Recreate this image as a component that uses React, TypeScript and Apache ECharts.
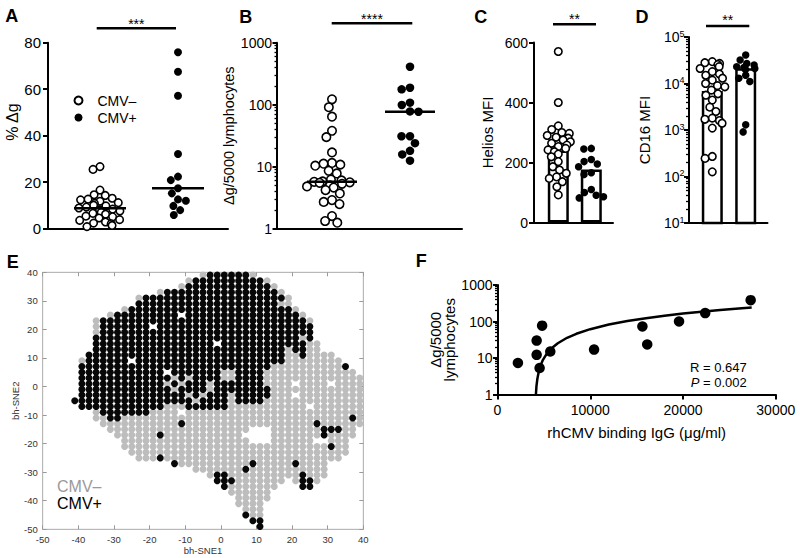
import React, { useEffect, useRef } from 'react';
import * as echarts from 'echarts';

const FONT = '"Liberation Sans", Arial, Helvetica, sans-serif';

// ---------------- Panel A : % Δg ----------------
const GROUPS = ['CMV–', 'CMV+'];
const A_NEG = [26.7, 25.5, 16.6, 14.6, 14.3, 13.1, 12.7, 12.4, 11.8, 11.2, 10.9, 10.1, 9.8, 9.3, 8.9, 8.4, 8.1, 7.6, 7.0, 6.6, 6.2, 5.4, 5.1, 4.6, 3.9, 3.6, 2.9, 2.4, 2.1, 1.4, 0.9];
const A_POS = [75.9, 67.5, 57.2, 32.1, 22.4, 20.9, 17.4, 15.2, 12.6, 12.0, 9.8, 8.0, 5.9];
const A_MEDIAN = [8.8, 17.4];

// ---------------- Panel B : Δg/5000 lymphocytes ----------------
const B_NEG = [122, 91, 64, 38, 30, 17, 11.5, 11.2, 10.8, 10.4, 8.6, 7.8, 6.2, 6.0, 5.8, 5.7, 5.6, 5.5, 5.3, 5.0, 4.8, 4.6, 4.2, 3.7, 2.9, 2.7, 2.5, 1.6, 1.33, 1.25];
const B_POS = [410, 188, 177, 108, 99, 78, 77, 31, 31, 24, 18, 15.8, 12.5];
const B_MEDIAN = [5.7, 77];

// ---------------- Panel C : Helios MFI ----------------
const C_NEG = [570, 400, 322, 310, 300, 297, 290, 284, 281, 275, 269, 264, 258, 253, 247, 242, 236, 228, 219, 203, 186, 175, 164, 152, 147, 136, 119, 92];
const C_POS = [247, 245, 210, 203, 195, 186, 166, 160, 110, 100, 91, 86, 82];
const C_MEAN = [240, 177];

// ---------------- Panel D : CD16 MFI ----------------
const D_NEG = [29500, 28000, 27000, 25500, 23000, 21000, 18000, 16000, 15000, 13000, 11800, 10000, 9000, 8500, 7200, 6000, 5600, 4400, 3100, 2500, 1800, 1700, 1600, 1400, 1100, 270, 245, 126];
const D_POS = [41000, 32000, 27000, 25000, 23000, 22000, 21000, 20000, 15000, 13000, 11000, 1290, 910];
const D_MEAN = [6900, 21300];

// minor (log) tick values
const MINOR_1_1000 = [2, 3, 4, 5, 6, 7, 8, 9, 20, 30, 40, 50, 60, 70, 80, 90, 200, 300, 400, 500, 600, 700, 800, 900];
const MINOR_10_1E5 = [20, 30, 40, 50, 60, 70, 80, 90, 200, 300, 400, 500, 600, 700, 800, 900, 2000, 3000, 4000, 5000, 6000, 7000, 8000, 9000, 20000, 30000, 40000, 50000, 60000, 70000, 80000, 90000];

// ---------------- Panel E : bh-SNE map (run-length rows, 2-unit cells) ----------------
// '.' empty, 'g' CMV– (gray), 'k' CMV+ (black); first column x=-41, first row y=39
const E_X0 = -41;
const E_Y0 = 39;
const E_STEP = 2;
const E_ROWS = [
  '18. g 6k g 15.',
  '16. g 10k g 13.',
  '15. g 12k g 12.',
  '12. g 16k g 11.',
  '9. g 20k g 10.',
  '9. 20k 2g 10.',
  '7. g 23k g 9.',
  '5. g 9k . 16k g 8.',
  '3. g 29k g 7.',
  '3. g 7k . 22k 7.',
  '3. g 30k 7.',
  '3. 29k g k 7.',
  '3. 17k . 12k 2g 6.',
  '3. 27k g 2k 2g 6.',
  '2. 28k 2g k 4g 4.',
  '. g 6k . 21k 8g 3.',
  '. 27k 10g k 2.',
  '. 12k . 7k 2g 4k 13g .',
  '. 13k g k g 4k 2g 4k 14g',
  '. 12k g k g 3k g 7k 4g . 4g . 4g',
  '. 13k g 4k g 8k 13g',
  '. 15k g k g 3k g 5k 3g . 9g',
  '17k g 4k g 4k 14g',
  '. 12k 3g 6k 11g . 7g',
  '3. g 7k 4g . 25g',
  '3. 2g 2k 32g k g',
  '4. 11g k 18g k 6g',
  '5. 20g 3. 7g 3k 2g .',
  '6. 6g k 11g 4. 7g k 4g .',
  '7. 18g 3. 6g 2. 3g 2.',
  '7. 29g k 2g 2.',
  '8. 31g 2.',
  '9. 3g k 25g 3.',
  '14. k 10g k 5g k 4g 5.',
  '17. 7g k 11g 5.',
  '19. g 2k 10g k 3g 5.',
  '20. 3k 7g . g 2k g 6.',
  '21. k 7g 3. 2k 7.',
  '22. 6g 13.',
  '23. 5g 13.',
  '23. 4g 14.',
  '24. 3g 14.',
  '24. k 2g 14.',
  '25. 2k 14.',
  '26. k 14.',
];

// ---------------- Panel F : Δg vs rhCMV binding IgG ----------------
const F_IGG = [2200, 4220, 4220, 4810, 4540, 5690, 10410, 15620, 16140, 19570, 22390, 27290];
const F_DG = [7.3, 30, 12.2, 77, 5.3, 15, 17, 73, 23.5, 100, 170, 385];
const F_FIT_X = [4140, 4200, 4300, 4450, 4650, 4900, 5300, 5800, 6500, 7500, 8500, 10000, 12000, 14000, 16000, 18000, 20000, 22000, 24000, 26000, 27400];
const F_FIT_Y = [1, 1.69, 2.72, 4.27, 6.33, 8.92, 13.05, 18.2, 25.4, 35.8, 46.1, 61.6, 82.3, 102.9, 123.6, 144.2, 164.9, 185.6, 206.2, 226.9, 241.3];
const F_R = '0.647';
const F_P = '0.002';

function decodeRows(rows: string[]) {
  const gray: number[][] = [];
  const black: number[][] = [];
  rows.forEach((row, r) => {
    let c = 0;
    row.split(' ').forEach((tok) => {
      const m = tok.match(/^(\d*)([.gk])$/);
      if (!m) return;
      const n = m[1] ? parseInt(m[1], 10) : 1;
      for (let i = 0; i < n; i++, c++) {
        const pt = [E_X0 + E_STEP * c, E_Y0 - E_STEP * r];
        if (m[2] === 'g') gray.push(pt);
        else if (m[2] === 'k') black.push(pt);
      }
    });
  });
  return { gray, black };
}

const BL = { color: '#000', width: 2 };
const plain = (v: number) => String(v);

function frameX(gridIndex: number) {
  return {
    gridIndex, type: 'value', min: 0, max: 1,
    axisLine: { show: true, onZero: false, lineStyle: BL },
    axisTick: { show: false }, axisLabel: { show: false }, splitLine: { show: false },
  };
}
function plotX(gridIndex: number, jitter: number) {
  return {
    gridIndex, type: 'category', data: GROUPS, show: false,
    jitter, jitterOverlap: false, jitterMargin: 0,
  };
}
function hiddenY(gridIndex: number, type: string, min: number, max: number) {
  return { gridIndex, type, min, max, show: false, splitLine: { show: false } };
}
function minorLogY(gridIndex: number, min: number, max: number, values: number[]) {
  return {
    gridIndex, type: 'log', logBase: 10, min, max, position: 'left',
    axisLine: { show: false }, axisLabel: { show: false }, splitLine: { show: false },
    axisTick: { show: true, length: 2.5, customValues: values, lineStyle: { color: '#000', width: 1.3 } },
  };
}
const tickStyle = (len: number) => ({ show: true, length: len, lineStyle: { color: '#000', width: 2 } });
const labelStyle = (size: number, margin: number) => ({ color: '#000', fontSize: size, fontFamily: FONT, margin, formatter: plain });

const openCircle = (size: number) => ({ symbol: 'circle', symbolSize: size, itemStyle: { color: '#fff', borderColor: '#000', borderWidth: 1.6, opacity: 1 } });
const filledCircle = (size: number) => ({ symbol: 'circle', symbolSize: size, itemStyle: { color: '#000', opacity: 1 } });

const medianRender = (half: number) => (_params: any, api: any) => {
  const p = api.coord([api.value(0), api.value(1)]);
  return {
    type: 'line',
    shape: { x1: p[0] - half, y1: p[1], x2: p[0] + half, y2: p[1] },
    style: { stroke: '#000', lineWidth: 2.5 },
  };
};

function buildOption() {
  const e = decodeRows(E_ROWS);
  const grids = [
    { left: 48, top: 42.7, width: 180, height: 186 },
    { left: 61, top: 42.7, width: 156, height: 186 },
    { left: 277, top: 42.7, width: 185, height: 186 },
    { left: 293, top: 42.7, width: 156, height: 186 },
    { left: 534, top: 42.5, width: 79, height: 180 },
    { left: 541.8, top: 42.5, width: 66, height: 180 },
    { left: 688.5, top: 37, width: 79, height: 186 },
    { left: 695.6, top: 37, width: 66.8, height: 186 },
    { left: 42.7, top: 272.3, width: 320.6, height: 257, show: true, borderColor: '#b8b8b8', borderWidth: 1, backgroundColor: '#fff' },
    { left: 497.5, top: 285, width: 278.3, height: 109.5 },
  ].map((g) => ({ ...g, containLabel: false, outerBoundsMode: 'none' }));

  const eAxisLine = { show: true, onZero: false, lineStyle: { color: '#b8b8b8', width: 1 } };
  const eTick = { show: true, inside: true, length: 4, lineStyle: { color: '#9a9a9a', width: 1 } };
  const eLabel = { color: '#333', fontSize: 9.5, fontFamily: FONT };

  const xAxis: any[] = [
    frameX(0), plotX(1, 50),
    frameX(2), plotX(3, 50),
    frameX(4), plotX(5, 26),
    frameX(6), plotX(7, 26),
    {
      gridIndex: 8, type: 'value', min: -50, max: 40, interval: 10, position: 'bottom',
      axisLine: eAxisLine, axisTick: eTick, axisLabel: { ...eLabel, margin: 5 }, splitLine: { show: false },
      name: 'bh-SNE1', nameLocation: 'middle', nameGap: 14, nameTextStyle: { ...eLabel },
    },
    {
      gridIndex: 8, type: 'value', min: -50, max: 40, interval: 10, position: 'top',
      axisLine: eAxisLine, axisTick: eTick, axisLabel: { show: false }, splitLine: { show: false },
    },
    {
      gridIndex: 9, type: 'value', min: 0, max: 30000, interval: 10000,
      axisLine: { show: true, onZero: false, lineStyle: BL }, axisTick: tickStyle(5),
      axisLabel: labelStyle(14, 8), splitLine: { show: false },
      name: 'rhCMV binding IgG (μg/ml)', nameLocation: 'middle', nameGap: 30.5,
      nameTextStyle: { fontSize: 15, color: '#000', fontFamily: FONT },
    },
  ];

  const yAxis: any[] = [
    {
      gridIndex: 0, type: 'value', min: 0, max: 80, interval: 20,
      axisLine: { show: true, lineStyle: BL }, axisTick: tickStyle(5),
      axisLabel: labelStyle(15, 7), splitLine: { show: false },
    },
    hiddenY(1, 'value', 0, 80),
    {
      gridIndex: 2, type: 'log', logBase: 10, min: 1, max: 1000,
      axisLine: { show: true, lineStyle: BL }, axisTick: tickStyle(4.5),
      axisLabel: labelStyle(14, 5), splitLine: { show: false },
      name: 'Δg/5000 lymphocytes', nameLocation: 'middle', nameGap: 21,
      nameTextStyle: { fontSize: 14.5, color: '#000', fontFamily: FONT },
    },
    hiddenY(3, 'log', 1, 1000),
    {
      gridIndex: 4, type: 'value', min: 0, max: 600, interval: 200,
      axisLine: { show: true, lineStyle: BL }, axisTick: tickStyle(5),
      axisLabel: labelStyle(14, 6), splitLine: { show: false },
      name: 'Helios MFI', nameLocation: 'middle', nameGap: 39,
      nameTextStyle: { fontSize: 15, color: '#000', fontFamily: FONT },
    },
    hiddenY(5, 'value', 0, 600),
    {
      gridIndex: 6, type: 'log', logBase: 10, min: 10, max: 100000,
      axisLine: { show: true, lineStyle: BL }, axisTick: tickStyle(4.5),
      axisLabel: {
        margin: 4,
        formatter: (v: number) => `{b|10}{s|${Math.round(Math.log10(v))}}`,
        rich: {
          b: { fontSize: 14, fontFamily: FONT, color: '#000', lineHeight: 16 },
          s: { fontSize: 9, fontFamily: FONT, color: '#000', verticalAlign: 'top', lineHeight: 10 },
        },
      },
      splitLine: { show: false },
      name: 'CD16 MFI', nameLocation: 'middle', nameGap: 37,
      nameTextStyle: { fontSize: 15, color: '#000', fontFamily: FONT },
    },
    hiddenY(7, 'log', 10, 100000),
    {
      gridIndex: 8, type: 'value', min: -50, max: 40, interval: 10, position: 'left',
      axisLine: eAxisLine, axisTick: eTick, axisLabel: { ...eLabel, margin: 5 }, splitLine: { show: false },
      name: 'bh-SNE2', nameLocation: 'middle', nameGap: 17.7, nameTextStyle: { ...eLabel },
    },
    {
      gridIndex: 8, type: 'value', min: -50, max: 40, interval: 10, position: 'right',
      axisLine: eAxisLine, axisTick: eTick, axisLabel: { show: false }, splitLine: { show: false },
    },
    {
      gridIndex: 9, type: 'log', logBase: 10, min: 1, max: 1000,
      axisLine: { show: true, lineStyle: BL }, axisTick: tickStyle(4.5),
      axisLabel: labelStyle(14, 5), splitLine: { show: false },
      name: 'Δg/5000\nlymphocytes', nameLocation: 'middle', nameGap: 39,
      nameTextStyle: { fontSize: 15, color: '#000', fontFamily: FONT, lineHeight: 14 },
    },
    // minor tick overlays (log)
    minorLogY(2, 1, 1000, MINOR_1_1000),
    minorLogY(6, 10, 100000, MINOR_10_1E5),
    minorLogY(9, 1, 1000, MINOR_1_1000),
  ];

  const barStyle = { color: '#fff', borderColor: '#000', borderWidth: 2.5 };

  const series: any[] = [
    // A
    { name: 'CMV–', type: 'scatter', xAxisIndex: 1, yAxisIndex: 1, data: A_NEG.map((v) => [0, v]), ...openCircle(7.5) },
    { name: 'CMV+', type: 'scatter', xAxisIndex: 1, yAxisIndex: 1, data: A_POS.map((v) => [1, v]), ...filledCircle(8) },
    { name: 'A median', type: 'custom', xAxisIndex: 1, yAxisIndex: 1, data: A_MEDIAN.map((v, i) => [i, v]), renderItem: medianRender(26), z: 5, silent: true },
    // B
    { name: 'B CMV–', type: 'scatter', xAxisIndex: 3, yAxisIndex: 3, data: B_NEG.map((v) => [0, v]), ...openCircle(8.5) },
    { name: 'B CMV+', type: 'scatter', xAxisIndex: 3, yAxisIndex: 3, data: B_POS.map((v) => [1, v]), ...filledCircle(8.5) },
    { name: 'B median', type: 'custom', xAxisIndex: 3, yAxisIndex: 3, data: B_MEDIAN.map((v, i) => [i, v]), renderItem: medianRender(25), z: 5, silent: true },
    // C
    { name: 'C mean', type: 'bar', xAxisIndex: 5, yAxisIndex: 5, data: C_MEAN, barWidth: 21, itemStyle: barStyle, clip: true },
    { name: 'C CMV–', type: 'scatter', xAxisIndex: 5, yAxisIndex: 5, data: C_NEG.map((v) => [0, v]), ...openCircle(7.5) },
    { name: 'C CMV+', type: 'scatter', xAxisIndex: 5, yAxisIndex: 5, data: C_POS.map((v) => [1, v]), ...filledCircle(7.5) },
    // D
    { name: 'D mean', type: 'bar', xAxisIndex: 7, yAxisIndex: 7, data: D_MEAN, barWidth: 21, itemStyle: barStyle, clip: true },
    { name: 'D CMV–', type: 'scatter', xAxisIndex: 7, yAxisIndex: 7, data: D_NEG.map((v) => [0, v]), ...openCircle(7.5) },
    { name: 'D CMV+', type: 'scatter', xAxisIndex: 7, yAxisIndex: 7, data: D_POS.map((v) => [1, v]), ...filledCircle(7.5) },
    // E
    { name: 'E CMV–', type: 'scatter', xAxisIndex: 8, yAxisIndex: 8, data: e.gray, symbol: 'circle', symbolSize: 7, itemStyle: { color: '#bdbdbd', opacity: 1 }, silent: true },
    { name: 'E CMV+', type: 'scatter', xAxisIndex: 8, yAxisIndex: 8, data: e.black, symbol: 'circle', symbolSize: 7, itemStyle: { color: '#080808', opacity: 1 }, silent: true },
    // F
    { name: 'F fit', type: 'line', xAxisIndex: 10, yAxisIndex: 10, data: F_FIT_X.map((x, i) => [x, F_FIT_Y[i]]), showSymbol: false, symbol: 'none', lineStyle: { color: '#000', width: 2.5 }, silent: true },
    { name: 'F points', type: 'scatter', xAxisIndex: 10, yAxisIndex: 10, data: F_IGG.map((x, i) => [x, F_DG[i]]), ...filledCircle(10.5) },
  ];

  const txt = (text: string, x: number, y: number, extra: any = {}) => ({
    type: 'text', x, y, silent: true,
    style: { text, fill: '#000', fontFamily: FONT, fontSize: 14, align: 'center', verticalAlign: 'middle', ...extra },
  });
  const hline = (x1: number, x2: number, y: number) => ({
    type: 'line', silent: true, shape: { x1, y1: y, x2, y2: y }, style: { stroke: '#000', lineWidth: 2.5 },
  });
  const bold = { fontSize: 18, fontWeight: 'bold' };

  const graphic: any[] = [
    txt('A', 11.7, 16.3, bold),
    txt('B', 245.8, 16.7, bold),
    txt('C', 480.8, 16.7, bold),
    txt('D', 642, 16.7, bold),
    txt('E', 12.8, 261.7, bold),
    txt('F', 421.3, 260.8, bold),
    { ...txt('% Δg', 12, 122, { fontSize: 16 }), rotation: Math.PI / 2 },
    hline(96.7, 176, 28.3), txt('***', 136.3, 24),
    hline(331.7, 412.3, 23.3), txt('****', 372, 18.5),
    hline(553, 596, 24.3), txt('**', 574.5, 19.3),
    hline(706, 749.3, 26), txt('**', 727.7, 20.2),
    txt('CMV–', 57, 486.7, { fontSize: 16, align: 'left', fill: '#9a9a9a' }),
    txt('CMV+', 57, 503.3, { fontSize: 16, align: 'left', fill: '#000' }),
    txt(`R = ${F_R}`, 746.7, 367.3, { fontSize: 13, align: 'right' }),
    txt(`{i|P} = ${F_P}`, 746.7, 382.7, { fontSize: 13, align: 'right', rich: { i: { fontStyle: 'italic', fontSize: 13, fontFamily: FONT, fill: '#000' } } }),
  ];

  return {
    animation: false,
    backgroundColor: '#fff',
    textStyle: { fontFamily: FONT, color: '#000' },
    legend: {
      data: GROUPS, orient: 'vertical', left: 68.5, top: 88.5,
      itemWidth: 8, itemHeight: 8, itemGap: 3, icon: 'circle', selectedMode: false,
      textStyle: { fontSize: 14, color: '#000', fontFamily: FONT, padding: [0, 0, 0, 10], lineHeight: 14 },
    },
    grid: grids,
    xAxis,
    yAxis,
    series,
    graphic,
  };
}

export default function App() {
  const ref = useRef<HTMLDivElement>(null);
  useEffect(() => {
    if (!ref.current) return;
    const chart = echarts.init(ref.current, undefined, { renderer: 'svg' });
    chart.setOption(buildOption() as any);
    return () => chart.dispose();
  }, []);
  return (
    <div
      ref={ref}
      style={{ position: 'absolute', left: 0, top: 0, width: 800, height: 558, background: '#fff' }}
    />
  );
}
